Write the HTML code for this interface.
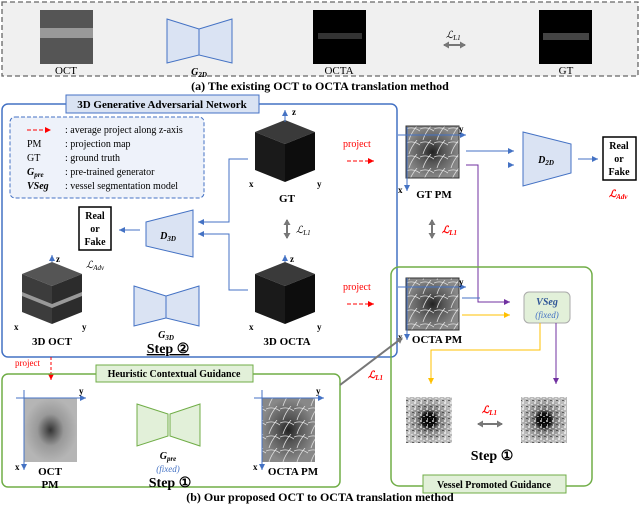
<!DOCTYPE html>
<html><head><meta charset="utf-8"><style>
html,body{margin:0;padding:0;background:#fff;}
svg{display:block;font-family:"Liberation Serif",serif;}
.b{font-weight:bold}
</style></head><body>
<svg width="640" height="505" viewBox="0 0 640 505" xmlns="http://www.w3.org/2000/svg">
<defs>
<marker id="ab" markerUnits="userSpaceOnUse" markerWidth="8" markerHeight="8" refX="6" refY="3" orient="auto"><path d="M0,0L6,3L0,6z" fill="#4472c4"/></marker>
<marker id="ap" markerUnits="userSpaceOnUse" markerWidth="8" markerHeight="8" refX="6" refY="3" orient="auto"><path d="M0,0L6,3L0,6z" fill="#7030a0"/></marker>
<marker id="ao" markerUnits="userSpaceOnUse" markerWidth="8" markerHeight="8" refX="6" refY="3" orient="auto"><path d="M0,0L6,3L0,6z" fill="#ffc000"/></marker>
<marker id="ar" markerUnits="userSpaceOnUse" markerWidth="8" markerHeight="8" refX="6" refY="3" orient="auto"><path d="M0,0L6,3L0,6z" fill="#ff0000"/></marker>
<marker id="ag" markerUnits="userSpaceOnUse" markerWidth="8" markerHeight="8" refX="5" refY="3.5" orient="auto-start-reverse"><path d="M0,0L6,3.5L0,7z" fill="#777"/></marker>
<radialGradient id="pm"><stop offset="0" stop-color="#222"/><stop offset="0.4" stop-color="#555"/><stop offset="1" stop-color="#888"/></radialGradient>
<radialGradient id="octpm"><stop offset="0" stop-color="#333"/><stop offset="0.5" stop-color="#999"/><stop offset="1" stop-color="#b5b5b5"/></radialGradient>
<radialGradient id="vs"><stop offset="0" stop-color="#000"/><stop offset="0.3" stop-color="#111"/><stop offset="0.45" stop-color="#777"/><stop offset="1" stop-color="#bbb"/></radialGradient>
<pattern id="ves" width="14" height="14" patternUnits="userSpaceOnUse"><path d="M0,3 Q7,0 14,5 M3,14 Q5,7 11,0" stroke="#ddd" stroke-width="0.8" fill="none"/></pattern>
<pattern id="noise" width="6" height="6" patternUnits="userSpaceOnUse"><rect x="0" y="0" width="2" height="2" fill="#fff"/><rect x="3" y="2" width="2" height="1" fill="#eee"/><rect x="1" y="4" width="1" height="2" fill="#fff"/><rect x="4" y="4" width="2" height="1" fill="#222"/></pattern>
<g id="cube">
<polygon points="0,12 30,0 60,12 30,24" fill="#3a3a3a"/>
<polygon points="0,12 30,24 30,62 0,50" fill="#1a1a1a"/>
<polygon points="30,24 60,12 60,50 30,62" fill="#0d0d0d"/>
</g>
</defs>

<!-- (a) -->
<rect x="2" y="2" width="636" height="74" fill="#f0f0f0" stroke="#666" stroke-dasharray="5,3" stroke-width="1.3"/>
<rect x="40" y="10" width="53" height="54" fill="#555"/>
<rect x="40" y="28" width="53" height="10" fill="#999"/>
<text x="66" y="74" font-size="11" text-anchor="middle">OCT</text>
<polygon points="167,19 199,29 199,55 167,63" fill="#dae3f3" stroke="#4472c4"/>
<polygon points="232,19 199,29 199,55 232,63" fill="#dae3f3" stroke="#4472c4"/>
<text x="199" y="75" font-size="10" class="b" text-anchor="middle" font-style="italic">G<tspan font-size="7" dy="2">2D</tspan></text>
<rect x="313" y="10" width="53" height="54" fill="#000"/>
<rect x="318" y="33" width="44" height="6" fill="#333"/>
<text x="339" y="74" font-size="11" text-anchor="middle">OCTA</text>
<text x="446" y="38" font-size="10" font-style="italic">ℒ<tspan font-size="7" dy="2">L1</tspan></text>
<line x1="444" y1="45" x2="465" y2="45" stroke="#777" stroke-width="2" marker-start="url(#ag)" marker-end="url(#ag)"/>
<rect x="539" y="10" width="53" height="54" fill="#000"/>
<rect x="543" y="33" width="46" height="7" fill="#444"/>
<text x="566" y="74" font-size="11" text-anchor="middle">GT</text>
<text x="320" y="90" font-size="12" class="b" text-anchor="middle">(a) The existing OCT to OCTA translation method</text>

<!-- 3D GAN box -->
<rect x="2" y="104" width="395" height="253" rx="6" fill="none" stroke="#4472c4" stroke-width="1.5"/>
<rect x="66" y="95" width="193" height="18" fill="#dae3f3" stroke="#4472c4"/>
<text x="162" y="108" font-size="11" class="b" text-anchor="middle">3D Generative Adversarial Network</text>
<rect x="10" y="117" width="194" height="81" rx="5" fill="#eef2fa" stroke="#4472c4" stroke-dasharray="4,2"/>
<line x1="27" y1="130" x2="51" y2="130" stroke="#f00" stroke-dasharray="4,2" marker-end="url(#ar)"/>
<g font-size="10">
<text x="65" y="133">: average project along z-axis</text>
<text x="27" y="147">PM</text><text x="65" y="147">: projection map</text>
<text x="27" y="161">GT</text><text x="65" y="161">: ground truth</text>
<text x="27" y="175" class="b" font-style="italic">G<tspan font-size="7" dy="2">pre</tspan></text><text x="65" y="175">: pre-trained generator</text>
<text x="27" y="189" class="b" font-style="italic">VSeg</text><text x="65" y="189">: vessel segmentation model</text>
</g>
<!-- GT cube -->
<use href="#cube" x="255" y="120"/>
<line x1="285" y1="122" x2="285" y2="110" stroke="#4472c4" marker-end="url(#ab)"/>
<text x="292" y="115" font-size="9" class="b">z</text>
<text x="249" y="187" font-size="9" class="b">x</text><text x="317" y="187" font-size="9" class="b">y</text>
<text x="287" y="202" font-size="11" class="b" text-anchor="middle">GT</text>
<!-- D3D -->
<polygon points="146,222 193,210 193,257 146,246" fill="#dae3f3" stroke="#4472c4"/>
<text x="168" y="239" font-size="10" class="b" font-style="italic" text-anchor="middle">D<tspan font-size="7" dy="2">3D</tspan></text>
<rect x="79" y="207" width="32" height="43" fill="#fff" stroke="#000" stroke-width="1.5"/>
<g font-size="10" class="b" text-anchor="middle"><text x="95" y="219">Real</text><text x="95" y="232">or</text><text x="95" y="245">Fake</text></g>
<text x="86" y="268" font-size="10" font-style="italic">ℒ<tspan font-size="7" dy="2">Adv</tspan></text>
<line x1="140" y1="230" x2="119" y2="230" stroke="#4472c4" marker-end="url(#ab)"/>
<polyline points="248,159 229,159 229,222 198,222" fill="none" stroke="#4472c4" marker-end="url(#ab)"/>
<polyline points="248,290 229,290 229,234 198,234" fill="none" stroke="#4472c4" marker-end="url(#ab)"/>
<line x1="287" y1="220" x2="287" y2="238" stroke="#777" stroke-width="2" marker-start="url(#ag)" marker-end="url(#ag)"/>
<text x="296" y="233" font-size="10" font-style="italic">ℒ<tspan font-size="7" dy="2">L1</tspan></text>
<!-- 3D OCT -->
<g transform="translate(22,262)"><polygon points="0,12 30,0 60,12 30,24" fill="#555"/><polygon points="0,12 30,24 30,62 0,50" fill="#3c3c3c"/><polygon points="30,24 60,12 60,50 30,62" fill="#2c2c2c"/><polygon points="0,30 30,42 60,30 60,34 30,46 0,34" fill="#999"/></g>
<line x1="52" y1="262" x2="52" y2="255" stroke="#4472c4" marker-end="url(#ab)"/>
<text x="56" y="262" font-size="9" class="b">z</text>
<text x="14" y="330" font-size="9" class="b">x</text><text x="82" y="330" font-size="9" class="b">y</text>
<text x="52" y="345" font-size="11" class="b" text-anchor="middle">3D OCT</text>
<!-- G3D -->
<polygon points="134,286 166,296 166,318 134,326" fill="#dae3f3" stroke="#4472c4"/>
<polygon points="199,286 166,296 166,318 199,326" fill="#dae3f3" stroke="#4472c4"/>
<text x="166" y="338" font-size="10" class="b" font-style="italic" text-anchor="middle">G<tspan font-size="7" dy="2">3D</tspan></text>
<text x="168" y="353" font-size="14" class="b" text-anchor="middle" text-decoration="underline">Step ②</text>
<!-- 3D OCTA -->
<use href="#cube" x="255" y="262"/>
<line x1="285" y1="262" x2="285" y2="255" stroke="#4472c4" marker-end="url(#ab)"/>
<text x="290" y="262" font-size="9" class="b">z</text>
<text x="249" y="330" font-size="9" class="b">x</text><text x="317" y="330" font-size="9" class="b">y</text>
<text x="287" y="345" font-size="11" class="b" text-anchor="middle">3D OCTA</text>

<!-- right top -->
<text x="343" y="147" font-size="10" fill="#f00">project</text>
<line x1="347" y1="161" x2="374" y2="161" stroke="#f00" stroke-dasharray="4,2" marker-end="url(#ar)"/>
<rect x="406" y="126" width="53" height="52" fill="url(#pm)"/><rect x="406" y="126" width="53" height="52" fill="url(#ves)" stroke="#333"/>
<line x1="398" y1="135" x2="466" y2="135" stroke="#4472c4" marker-end="url(#ab)"/>
<line x1="407" y1="127" x2="407" y2="191" stroke="#4472c4" marker-end="url(#ab)"/>
<text x="459" y="132" font-size="9" class="b">y</text><text x="398" y="193" font-size="9" class="b">x</text>
<text x="434" y="198" font-size="11" class="b" text-anchor="middle">GT PM</text>
<polygon points="523,132 571,144 571,173 523,186" fill="#dae3f3" stroke="#4472c4"/>
<text x="546" y="163" font-size="10" class="b" font-style="italic" text-anchor="middle">D<tspan font-size="7" dy="2">2D</tspan></text>
<rect x="603" y="137" width="33" height="43" fill="#fff" stroke="#000" stroke-width="1.5"/>
<g font-size="10" class="b" text-anchor="middle"><text x="619" y="149">Real</text><text x="619" y="162">or</text><text x="619" y="175">Fake</text></g>
<text x="609" y="197" font-size="10" font-style="italic" fill="#f00" class="b">ℒ<tspan font-size="7" dy="2">Adv</tspan></text>
<line x1="578" y1="159" x2="598" y2="159" stroke="#4472c4" marker-end="url(#ab)"/>
<line x1="466" y1="151" x2="514" y2="151" stroke="#4472c4" marker-end="url(#ab)"/>
<polyline points="466,165 478,165 478,298 478,302 510,302" fill="none" stroke="#7030a0" marker-end="url(#ap)"/>
<polyline points="462,298 480,298 M488,298 488,165 514,165" fill="none" stroke="#4472c4"/>
<line x1="508" y1="165" x2="514" y2="165" stroke="#4472c4" marker-end="url(#ab)"/>
<line x1="432" y1="220" x2="432" y2="238" stroke="#777" stroke-width="2" marker-start="url(#ag)" marker-end="url(#ag)"/>
<text x="442" y="233" font-size="10" font-style="italic" fill="#f00" class="b">ℒ<tspan font-size="7" dy="2">L1</tspan></text>

<!-- Vessel box -->
<rect x="391" y="267" width="201" height="219" rx="8" fill="none" stroke="#70ad47" stroke-width="1.5"/>
<text x="343" y="290" font-size="10" fill="#f00">project</text>
<line x1="347" y1="304" x2="374" y2="304" stroke="#f00" stroke-dasharray="4,2" marker-end="url(#ar)"/>
<rect x="406" y="278" width="53" height="52" fill="url(#pm)"/><rect x="406" y="278" width="53" height="52" fill="url(#ves)" stroke="#333"/>
<line x1="398" y1="287" x2="466" y2="287" stroke="#4472c4" marker-end="url(#ab)"/>
<line x1="407" y1="278" x2="407" y2="340" stroke="#4472c4" marker-end="url(#ab)"/>
<text x="459" y="285" font-size="9" class="b">y</text><text x="398" y="340" font-size="9" class="b">x</text>
<text x="437" y="343" font-size="11" class="b" text-anchor="middle">OCTA PM</text>
<line x1="462" y1="315" x2="510" y2="315" stroke="#ffc000" marker-end="url(#ao)"/>
<rect x="524" y="292" width="46" height="31" rx="5" fill="#e2f0d9" stroke="#aaa"/>
<text x="547" y="305" font-size="10" class="b" font-style="italic" text-anchor="middle" fill="#2f5597">VSeg</text>
<text x="547" y="318" font-size="9" font-style="italic" text-anchor="middle" fill="#4472c4">(fixed)</text>
<polyline points="540,323 540,350 431,350 431,384" fill="none" stroke="#ffc000" marker-end="url(#ao)"/>
<line x1="556" y1="323" x2="556" y2="384" stroke="#7030a0" marker-end="url(#ap)"/>
<rect x="406" y="397" width="46" height="46" fill="url(#vs)"/><rect x="406" y="397" width="46" height="46" fill="url(#noise)" opacity="0.6"/>
<rect x="521" y="397" width="46" height="46" fill="url(#vs)"/><rect x="521" y="397" width="46" height="46" fill="url(#noise)" opacity="0.6"/>
<text x="482" y="413" font-size="10" font-style="italic" fill="#f00" class="b">ℒ<tspan font-size="7" dy="2">L1</tspan></text>
<line x1="478" y1="424" x2="502" y2="424" stroke="#777" stroke-width="2" marker-start="url(#ag)" marker-end="url(#ag)"/>
<text x="492" y="460" font-size="14" class="b" text-anchor="middle">Step ①</text>
<rect x="423" y="475" width="143" height="18" fill="#e2f0d9" stroke="#70ad47"/>
<text x="494" y="488" font-size="10" class="b" text-anchor="middle">Vessel Promoted Guidance</text>

<!-- Heuristic box -->
<text x="15" y="366" font-size="9" fill="#f00">project</text>
<line x1="51" y1="357" x2="51" y2="380" stroke="#f00" stroke-dasharray="3,2" marker-end="url(#ar)"/>
<rect x="2" y="374" width="338" height="113" rx="6" fill="none" stroke="#70ad47" stroke-width="1.5"/>
<rect x="96" y="365" width="157" height="17" fill="#e2f0d9" stroke="#70ad47"/>
<text x="174" y="377" font-size="10" class="b" text-anchor="middle">Heuristic Contextual Guidance</text>
<rect x="24" y="398" width="53" height="64" fill="url(#octpm)"/>
<line x1="16" y1="398" x2="86" y2="398" stroke="#4472c4" marker-end="url(#ab)"/>
<line x1="24" y1="390" x2="24" y2="470" stroke="#4472c4" marker-end="url(#ab)"/>
<text x="79" y="394" font-size="9" class="b">y</text><text x="15" y="470" font-size="9" class="b">x</text>
<text x="50" y="475" font-size="11" class="b" text-anchor="middle">OCT</text>
<text x="50" y="488" font-size="11" class="b" text-anchor="middle">PM</text>
<polygon points="137,404 168,414 168,436 137,446" fill="#e2f0d9" stroke="#70ad47"/>
<polygon points="200,404 170,414 170,436 200,446" fill="#e2f0d9" stroke="#70ad47"/>
<text x="168" y="459" font-size="10" class="b" font-style="italic" text-anchor="middle">G<tspan font-size="7" dy="2">pre</tspan></text>
<text x="168" y="472" font-size="9" font-style="italic" text-anchor="middle" fill="#4472c4">(fixed)</text>
<text x="170" y="487" font-size="14" class="b" text-anchor="middle">Step ①</text>
<rect x="262" y="398" width="53" height="64" fill="url(#pm)"/><rect x="262" y="398" width="53" height="64" fill="url(#ves)"/>
<line x1="254" y1="398" x2="324" y2="398" stroke="#4472c4" marker-end="url(#ab)"/>
<line x1="262" y1="390" x2="262" y2="470" stroke="#4472c4" marker-end="url(#ab)"/>
<text x="316" y="394" font-size="9" class="b">y</text><text x="253" y="470" font-size="9" class="b">x</text>
<text x="293" y="475" font-size="11" class="b" text-anchor="middle">OCTA PM</text>
<line x1="340" y1="385" x2="402" y2="338" stroke="#777" stroke-width="2" marker-end="url(#ag)"/>
<text x="368" y="378" font-size="10" font-style="italic" fill="#f00" class="b">ℒ<tspan font-size="7" dy="2">L1</tspan></text>

<text x="320" y="501" font-size="12" class="b" text-anchor="middle">(b) Our proposed OCT to OCTA translation method</text>
</svg>
</body></html>
